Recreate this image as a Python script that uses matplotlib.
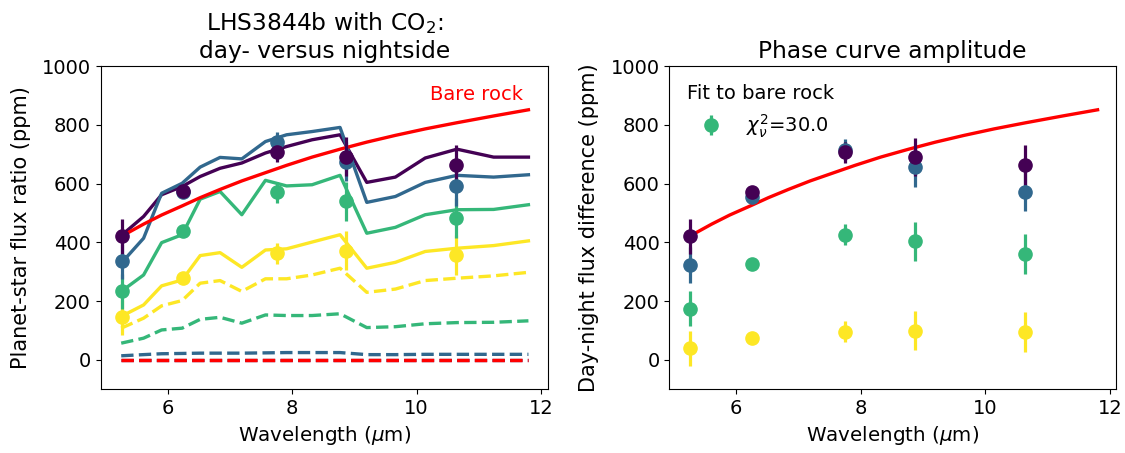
import matplotlib
matplotlib.use("Agg")
import matplotlib.pyplot as plt

# ---- data ----
wl_model = [5.25, 5.61, 5.90, 6.23, 6.52, 6.84, 7.19, 7.57, 7.91, 8.32, 8.77,
            9.20, 9.66, 10.14, 10.65, 11.24, 11.80]

colors = ["#440154", "#31688e", "#35b779", "#fde725"]

day_models = [
    [423, 488, 562, 590, 624, 652, 670, 704, 726, 749, 766, 604, 622, 687, 717, 690, 690],
    [329, 414, 567, 601, 656, 689, 684, 743, 766, 777, 791, 536, 556, 604, 628, 622, 630],
    [233, 289, 399, 426, 547, 573, 494, 611, 592, 596, 628, 431, 451, 494, 511, 512, 528],
    [148, 187, 252, 272, 355, 365, 315, 374, 378, 401, 426, 312, 332, 369, 380, 389, 405],
]
night_models = [
    [1, 1, 1, 1, 1, 1, 1, 1, 1, 1, 1, 1, 1, 1, 1, 1, 1],
    [14, 18, 21, 22, 23, 23, 23, 24, 25, 25, 25, 18, 18, 19, 19, 19, 19],
    [57, 74, 102, 108, 138, 145, 125, 153, 151, 151, 157, 110, 113, 123, 127, 128, 133],
    [108, 142, 184, 202, 261, 270, 233, 276, 276, 289, 312, 230, 241, 270, 278, 286, 298],
]
bare_rock_day = [420, 462, 493, 524, 552, 580, 609, 637, 662, 690, 717, 741, 764, 786, 807, 830, 851]
bare_rock_night = [0] * 17

wl_obs = [5.26, 6.25, 7.75, 8.87, 10.63]
day_obs = [
    [420, 575, 709, 692, 664],
    [335, 570, 740, 675, 592],
    [233, 437, 570, 539, 482],
    [145, 280, 363, 372, 357],
]
diff_obs = [
    [420, 573, 706, 690, 662],
    [323, 556, 715, 655, 573],
    [174, 327, 426, 403, 361],
    [39, 74, 96, 100, 94],
]
obs_err = [60, 20, 35, 65, 68]

chi2_label = r"$\chi^2_\nu$=30.0"

# ---- figure ----
plt.rcParams["font.size"] = 14
fig = plt.figure(figsize=(11.25, 4.53), dpi=100)
ax1 = fig.add_axes([0.0895, 0.1406, 0.3979, 0.7137])
ax2 = fig.add_axes([0.5949, 0.1406, 0.3968, 0.7137])

lw = 2.4
for i, c in enumerate(colors):
    ax1.plot(wl_model, day_models[i], color=c, lw=lw, zorder=2)
for i, c in enumerate(colors):
    ax1.plot(wl_model, night_models[i], color=c, lw=lw, ls="--", zorder=2)
ax1.plot(wl_model, bare_rock_day, color="red", lw=lw, zorder=3)
ax1.plot(wl_model, bare_rock_night, color="red", lw=lw, ls="--", zorder=3)
for i in range(3, -1, -1):
    ax1.errorbar(wl_obs, day_obs[i], yerr=obs_err, fmt="o", color=colors[i],
                 ms=9.5, elinewidth=2.3, capsize=0, zorder=4)
ax1.text(10.22, 872, "Bare rock", color="red", fontsize=14, va="bottom", ha="left")
ax1.set_ylim(-100, 1000)
ax1.set_xlim(4.92, 12.12)
ax1.set_xticks([6, 8, 10, 12])
ax1.set_yticks([0, 200, 400, 600, 800, 1000])
ax1.set_xlabel(r"Wavelength ($\mu$m)", fontsize=14.3)
ax1.set_ylabel("Planet-star flux ratio (ppm)", fontsize=15, labelpad=8)
ax1.set_title("LHS3844b with CO$_2$:\nday- versus nightside", fontsize=16.8)

ax2.plot(wl_model, bare_rock_day, color="red", lw=lw, zorder=2)
handle = None
for i in range(3, -1, -1):
    h = ax2.errorbar(wl_obs, diff_obs[i], yerr=obs_err, fmt="o", color=colors[i],
                     ms=9.5, elinewidth=2.3, capsize=0, zorder=4)
    if i == 2:
        handle = h
ax2.legend([handle], [chi2_label], title="Fit to bare rock", loc="upper left",
           frameon=False, fontsize=14, title_fontsize=14)
ax2.set_ylim(-100, 1000)
ax2.set_xlim(4.93, 12.09)
ax2.set_xticks([6, 8, 10, 12])
ax2.set_yticks([0, 200, 400, 600, 800, 1000])
ax2.set_xlabel(r"Wavelength ($\mu$m)", fontsize=14.3)
ax2.set_ylabel("Day-night flux difference (ppm)", fontsize=15, labelpad=8)
ax2.set_title("Phase curve amplitude", fontsize=16.8)

fig.savefig("out.png", dpi=100)
